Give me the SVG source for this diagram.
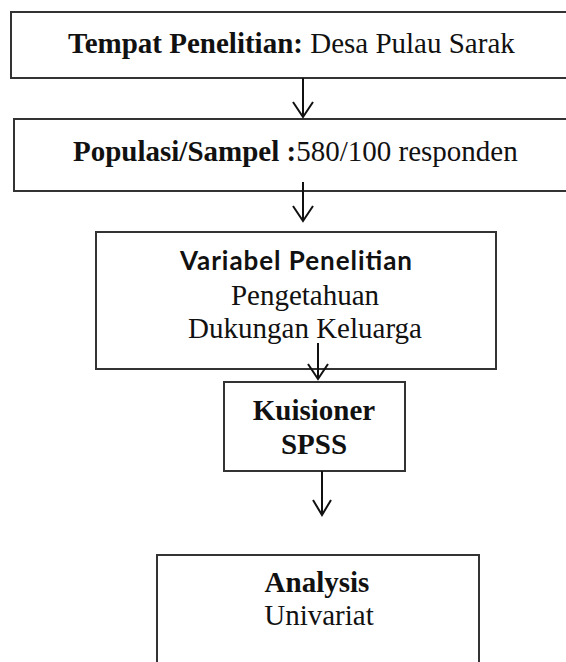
<svg xmlns="http://www.w3.org/2000/svg" width="566" height="662" viewBox="0 0 566 662">
<style>
.box{fill:#fff;stroke:#333;stroke-width:2}
.t{font-family:"Liberation Serif","Times New Roman",serif;font-size:29px;fill:#111}
.b{font-weight:bold}
.s{font-family:Lato,"Liberation Sans",sans-serif;font-weight:bold;font-size:26px;fill:#111}
.c{fill:none;stroke:#111;stroke-width:2}
</style>
<g id="n1">
<rect class="box" x="11" y="12" width="570" height="66"/>
<text class="t" x="68" y="53"><tspan class="b">Tempat Penelitian:</tspan> Desa Pulau Sarak</text>
</g>
<g id="n2">
<rect class="box" x="14" y="119" width="570" height="72"/>
<text class="t" x="73" y="161"><tspan class="b">Populasi/Sampel :</tspan>580/100 responden</text>
</g>
<g id="n3">
<rect class="box" x="96" y="232" width="400" height="137"/>
<text class="s" x="296" y="270" text-anchor="middle" textLength="232">Variabel Penelitian</text>
<text class="t" x="305" y="305" text-anchor="middle">Pengetahuan</text>
<text class="t" x="305" y="338" text-anchor="middle">Dukungan Keluarga</text>
</g>
<g id="n4">
<rect class="box" x="224" y="382" width="181" height="89"/>
<text class="t b" x="314" y="420" text-anchor="middle">Kuisioner</text>
<text class="t b" x="314" y="454" text-anchor="middle">SPSS</text>
</g>
<g id="n5">
<rect class="box" x="157" y="555" width="322" height="120"/>
<text class="t b" x="317" y="592" text-anchor="middle">Analysis</text>
<text class="t" x="319" y="625" text-anchor="middle">Univariat</text>
</g>
<g id="connectors">
<path class="c" d="M303 78V117M293 102L303 117L313 102"/>
<path class="c" d="M303 182V221M293 206L303 221L313 206"/>
<path class="c" d="M318 343V379M308 364L318 379L328 364"/>
<path class="c" d="M322 471V515M313 500L322 515L331 500"/>
</g>
</svg>
